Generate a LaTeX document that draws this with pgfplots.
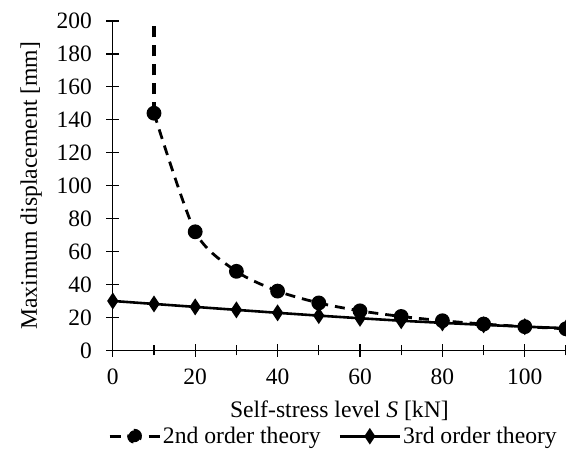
\documentclass[border=0pt]{standalone}
\usepackage{pgfplots}
\pgfplotsset{compat=1.18}
\usepackage{fontspec}
\setmainfont{Liberation Serif}

\pgfplotstableread{
S   w
10  144
20  72
30  48
40  36
50  28.8
60  24
70  20.6
80  18
90  16
100 14.4
110 13.1
}\secondorder

\pgfplotstableread{
S   w
0   30
10  28.2
20  26.4
30  24.6
40  22.8
50  21.1
60  19.5
70  18
80  16.7
90  15.5
100 14.4
110 13.5
}\thirdorder

\begin{document}
\begin{tikzpicture}
\begin{axis}[
  name=ax,
  scale only axis,
  width=454pt, height=330pt,
  xmin=0, xmax=110, ymin=0, ymax=200,
  axis lines=left,
  axis line style={line width=1.3pt, -},
  xtick={0,20,...,100},
  minor xtick={10,30,...,110},
  ytick={0,20,...,200},
  tick align=center,
  major tick length=13pt,
  minor tick length=10pt,
  every tick/.style={black, line width=1.2pt},
  /pgf/number format/assume math mode=true,
  ticklabel style={font=\fontsize{23.5}{26}\selectfont},
  xticklabel style={yshift=-9pt},
  yticklabel style={xshift=-11pt},
  label style={font=\fontsize{23.7}{26}\selectfont},
  xlabel={Self-stress level \textit{S} [kN]},
  ylabel={Maximum displacement [mm]},
  xlabel style={at={(axis description cs:0.5,0)}, anchor=center, yshift=-60pt},
  ylabel style={at={(axis description cs:-0.18,0.5)}, anchor=center},
  legend columns=2,
  legend style={draw=none, fill=none, at={(axis description cs:0.487,0)}, anchor=center,
    yshift=-86pt, font=\fontsize{23.7}{26}\selectfont,
    /tikz/every even column/.append style={column sep=16pt}},
  clip mode=individual,
]
\addplot[black, line width=2.8pt, dash pattern=on 10pt off 7pt, smooth, tension=0.45,
  mark=*, mark size=6pt, mark options={solid},
  legend image code/.code={
    \draw[black, solid, line width=2.8pt] (0pt,0pt) -- (11pt,0pt) (39pt,0pt) -- (50pt,0pt);
    \fill[black] (25pt,0pt) circle (6pt);}]
  table[x=S, y=w] {\secondorder};
\addlegendentry{2nd order theory}
\addplot[black, line width=2.6pt, mark=diamond*, mark size=6.2pt,
  mark options={solid, xscale=0.88},
  legend image code/.code={\draw[black, solid, line width=2.6pt, mark=diamond*,
    mark size=6pt, mark options={xscale=0.88}, mark repeat=2, mark phase=2]
    plot coordinates {(0pt,0pt) (30pt,0pt) (60pt,0pt)};}]
  table[x=S, y=w] {\thirdorder};
\addlegendentry{3rd order theory}
% the 2nd order curve rises without bound as S approaches 10 kN
\addplot[black, line width=3.2pt, dash pattern=on 11pt off 8pt, forget plot]
  coordinates {(10,144) (10,260)};
\end{axis}
\pgfresetboundingbox
\path[use as bounding box] ([xshift=-113pt,yshift=-110pt]ax.south west)
  rectangle ([yshift=21pt]ax.north east);
\end{tikzpicture}
\end{document}
